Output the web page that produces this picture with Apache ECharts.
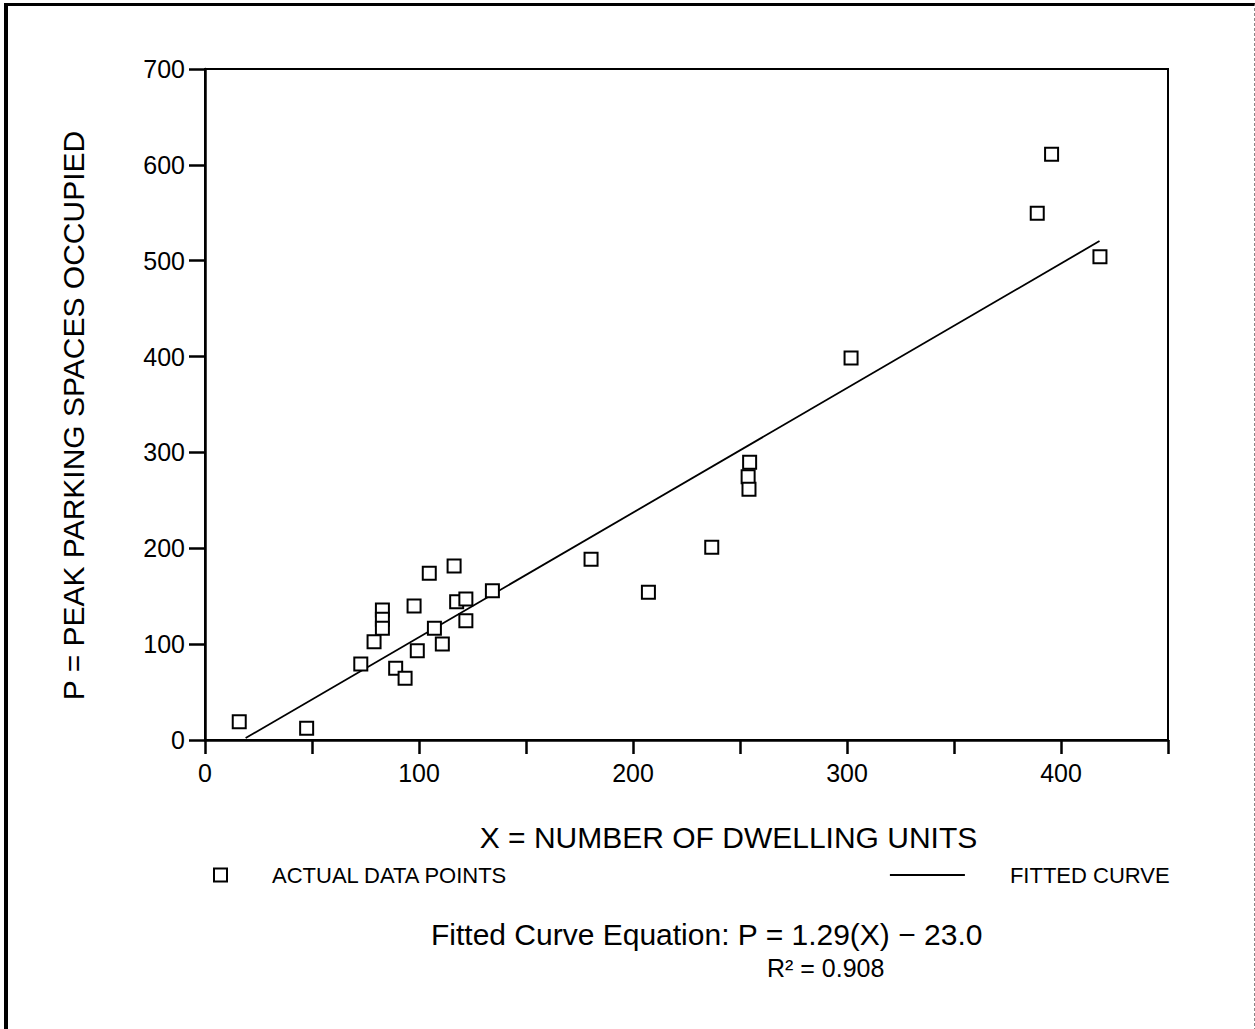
<!DOCTYPE html>
<html>
<head>
<meta charset="utf-8">
<script src="https://cdn.jsdelivr.net/npm/echarts@6/dist/echarts.min.js"></script>
<style>
  html, body { margin: 0; padding: 0; background: #fff; }
  #wrap { position: relative; width: 1255px; height: 1029px; }
  #chart { position: absolute; left: 0; top: 0; width: 1255px; height: 1029px; }
  #frame { position: absolute; left: 4px; top: 3px; width: 1246px; height: 1040px;
           border-left: 4px solid #000; border-top: 3px solid #000; border-right: 1px dashed #888;
           pointer-events: none; }
</style>
</head>
<body>
<div id="wrap"><div id="chart"></div><div id="frame"></div></div>
<script>
// ---- data ----
const dwellingUnits = [16, 47.5, 72.8, 79, 82.9, 82.9, 82.9, 89.1, 93.5, 97.7, 99.2, 104.8, 107.2, 110.9,
                       116.4, 117.6, 121.9, 121.9, 134.3, 180.4, 207.2, 236.8, 254.5, 253.8, 254.2,
                       301.9, 388.9, 395.6, 418.2];
const peakSpaces   = [19, 12.3, 79.3, 102.6, 135.6, 125.9, 116.5, 74.8, 64.3, 139.8, 93.2, 173.9, 116.5, 100.1,
                       181.5, 144.3, 147.1, 124.5, 155.8, 188.6, 154.2, 201, 289.7, 274.7, 261.5,
                       398.5, 549.4, 611, 504.2];
const fitX = [19, 418];
const fitY = [2, 520.5];
const xTicks = [0, 100, 200, 300, 400];
const yTicks = [0, 100, 200, 300, 400, 500, 600, 700];

const FONT = '"Liberation Sans", Arial, Helvetica, sans-serif';
const scatterData = dwellingUnits.map((x, i) => [x, peakSpaces[i]]);
const lineData = fitX.map((x, i) => [x, fitY[i]]);

const chart = echarts.init(document.getElementById('chart'), null, { renderer: 'svg' });
chart.setOption({
  backgroundColor: '#fff',
  animation: false,
  textStyle: { fontFamily: FONT, color: '#000' },
  grid: { left: 205, right: 87, top: 69, bottom: 289, show: true, borderColor: '#000', borderWidth: 2 },
  xAxis: {
    type: 'value', min: 0, max: 450, interval: 50,
    name: 'X = NUMBER OF DWELLING UNITS', nameLocation: 'middle', nameGap: 82,
    nameTextStyle: { fontSize: 30, color: '#000', fontFamily: FONT, padding: [0, 0, 0, 84] },
    axisLine: { show: true, onZero: false, lineStyle: { color: '#000', width: 2.5 } },
    axisTick: { show: true, length: 14, lineStyle: { color: '#000', width: 2.5 } },
    axisLabel: { fontSize: 25, color: '#000', margin: 20, fontFamily: FONT,
                 formatter: v => xTicks.includes(v) ? String(v) : '' },
    splitLine: { show: false }
  },
  yAxis: {
    type: 'value', min: 0, max: 700, interval: 100,
    name: 'P = PEAK PARKING SPACES OCCUPIED', nameLocation: 'middle', nameGap: 117, nameRotate: 90,
    nameTextStyle: { fontSize: 30, color: '#000', fontFamily: FONT, padding: [0, 22, 0, 0] },
    axisLine: { show: true, lineStyle: { color: '#000', width: 2.5 } },
    axisTick: { show: true, length: 16, lineStyle: { color: '#000', width: 2.5 } },
    axisLabel: { fontSize: 25, color: '#000', margin: 20, fontFamily: FONT,
                 formatter: v => yTicks.includes(v) ? String(v) : '' },
    splitLine: { show: false }
  },
  legend: [
    {
      left: 208, top: 859, itemWidth: 13, itemHeight: 13, selectedMode: false,
      data: [{ name: 'ACTUAL DATA POINTS', icon: 'rect',
               itemStyle: { color: '#fff', borderColor: '#000', borderWidth: 2 } }],
      textStyle: { fontSize: 22, color: '#000', fontFamily: FONT, padding: [0, 0, 0, 40] }
    },
    {
      left: 884, top: 859, itemWidth: 75, itemHeight: 14, selectedMode: false,
      itemStyle: { opacity: 0 },
      lineStyle: { color: '#000', width: 1.8, opacity: 1 },
      data: [{ name: 'FITTED CURVE' }],
      textStyle: { fontSize: 22, color: '#000', fontFamily: FONT, padding: [0, 0, 0, 40] }
    }
  ],
  graphic: [
    { type: 'text', left: 431, top: 919, style: { text: 'Fitted Curve Equation: P = 1.29(X) − 23.0',
      font: '30px ' + FONT, fill: '#000' } },
    { type: 'text', left: 767, top: 955, style: { text: 'R² = 0.908', font: '25px ' + FONT, fill: '#000' } }
  ],
  series: [
    {
      name: 'FITTED CURVE', type: 'line', data: lineData, symbol: 'none',
      lineStyle: { color: '#000', width: 1.8 }, itemStyle: { color: '#000' }, z: 2
    },
    {
      name: 'ACTUAL DATA POINTS', type: 'scatter', data: scatterData, symbol: 'rect', symbolSize: 13,
      itemStyle: { color: '#fff', borderColor: '#000', borderWidth: 2, opacity: 1 }, z: 3
    }
  ]
});
</script>
</body>
</html>
